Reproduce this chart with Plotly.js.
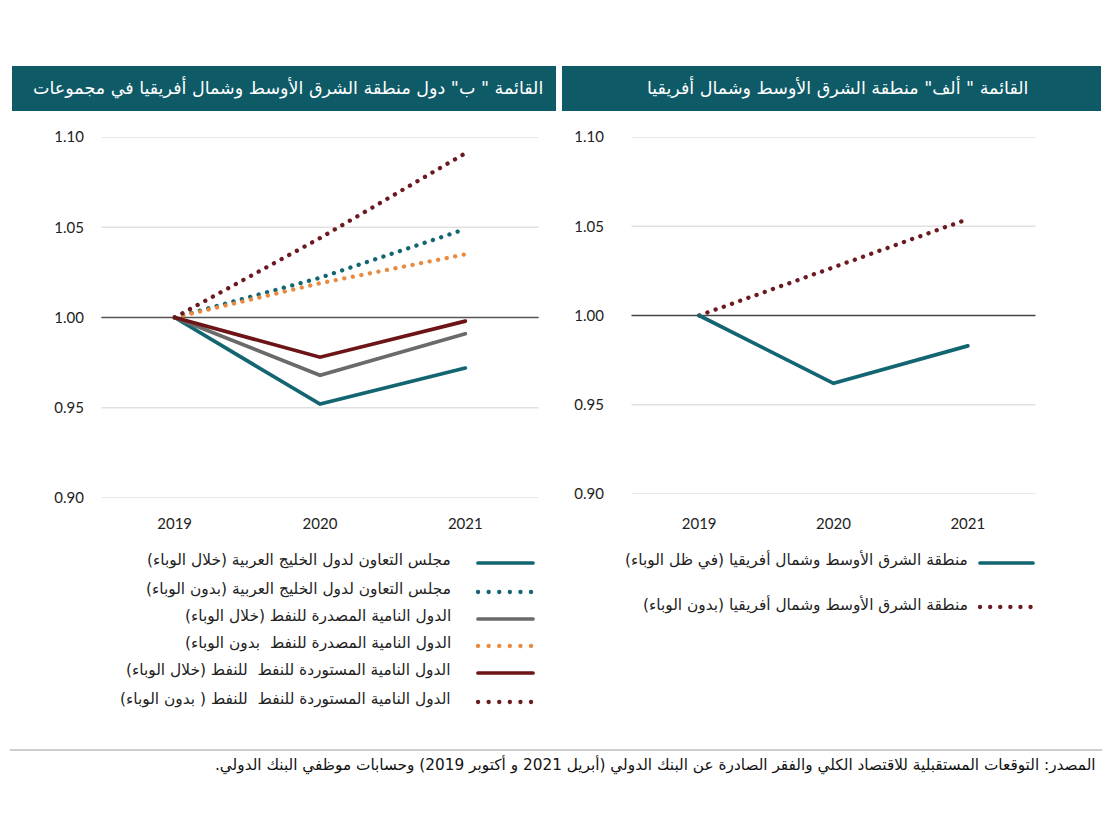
<!DOCTYPE html>
<html>
<head>
<meta charset="utf-8">
<script src="https://cdn.plot.ly/plotly-3.0.1.min.js"></script>
<style>
  html, body { margin: 0; padding: 0; background: #ffffff; }
  #chart { width: 1114px; height: 813px; }
  .js-line, .shapelayer path { stroke-linecap: round; }
</style>
</head>
<body>
<div id="chart"></div>
<script>
// ---------- data ----------
const years = ['2019', '2020', '2021'];

// Panel B (left): MENA country groups
const gccWith       = [1.000, 0.952, 0.972];
const gccWithout    = [1.000, 1.022, 1.049];
const exportWith    = [1.000, 0.968, 0.991];
const exportWithout = [1.000, 1.019, 1.035];
const importWith    = [1.000, 0.978, 0.998];
const importWithout = [1.000, 1.044, 1.091];

// Panel A (right): MENA region
const menaWith    = [1.000, 0.962, 0.983];
const menaWithout = [1.000, 1.027, 1.054];

const yTickVals = [0.90, 0.95, 1.00, 1.05, 1.10];
const yTickText = ['0.90', '0.95', '1.00', '1.05', '1.10'];
const baseline = 1.00;

const leftNames = [
  'مجلس التعاون لدول الخليج العربية (خلال الوباء)',
  'مجلس التعاون لدول الخليج العربية (بدون الوباء)',
  'الدول النامية المصدرة للنفط (خلال الوباء)',
  'الدول النامية المصدرة للنفط  بدون الوباء)',
  'الدول النامية المستوردة للنفط  للنفط (خلال الوباء)',
  'الدول النامية المستوردة للنفط  للنفط ( بدون الوباء)'
];
const rightNames = [
  'منطقة الشرق الأوسط وشمال أفريقيا (في ظل الوباء)',
  'منطقة الشرق الأوسط وشمال أفريقيا (بدون الوباء)'
];
const titleLeft  = 'القائمة " ب" دول منطقة الشرق الأوسط وشمال أفريقيا في مجموعات';
const titleRight = 'القائمة " ألف" منطقة الشرق الأوسط وشمال أفريقيا';
const sourceText = 'المصدر: التوقعات المستقبلية للاقتصاد الكلي والفقر الصادرة عن البنك الدولي (أبريل 2021 و أكتوبر 2019) وحسابات موظفي البنك الدولي.';

// ---------- styles ----------
const W = 1114, H = 813;
const px = v => v / W;
const py = v => 1 - v / H;
const rtl = s => '\u202B' + s + '\u202C';

const TEAL = '#136571', GRAY = '#6a6a6a', RED = '#6d1416', ORANGE = '#e98a3e', DRED = '#6a1a20';
const DOT = '0.1px,8.6px';
const FONT = 'Lato, "Open Sans", sans-serif';
const AFONT = '"DejaVu Sans", "Noto Sans", sans-serif';

const leftSeries = [
  {y: gccWith,       color: TEAL,   dash: 'solid'},
  {y: gccWithout,    color: TEAL,   dash: DOT},
  {y: exportWith,    color: GRAY,   dash: 'solid'},
  {y: exportWithout, color: ORANGE, dash: DOT},
  {y: importWith,    color: RED,    dash: 'solid'},
  {y: importWithout, color: DRED,   dash: DOT}
];
const rightSeries = [
  {y: menaWith,    color: TEAL, dash: 'solid'},
  {y: menaWithout, color: DRED, dash: DOT}
];

const traces = [];
// dotted first, solid on top
[1,3,5,0,2,4].forEach(i => {
  const s = leftSeries[i];
  traces.push({x: years, y: s.y, xaxis: 'x', yaxis: 'y', type: 'scatter', mode: 'lines',
    line: {color: s.color, width: s.dash === 'solid' ? 3.7 : 4.3, dash: s.dash}, name: leftNames[i],
    showlegend: false, hoverinfo: 'skip'});
});
[1,0].forEach(i => {
  const s = rightSeries[i];
  traces.push({x: years, y: s.y, xaxis: 'x2', yaxis: 'y2', type: 'scatter', mode: 'lines',
    line: {color: s.color, width: s.dash === 'solid' ? 3.7 : 4.3, dash: s.dash}, name: rightNames[i],
    showlegend: false, hoverinfo: 'skip'});
});

const xax = (domain, standoff) => ({
  domain: domain, type: 'category', range: [-0.5, 2.5], showgrid: false, zeroline: false,
  showline: false, ticks: '', ticklabelstandoff: standoff,
  tickfont: {family: FONT, size: 15, color: '#222'}, fixedrange: true
});
const yax = (domain, anchor, standoff) => ({
  domain: domain, anchor: anchor, range: [0.90, 1.10], tickvals: yTickVals, ticktext: yTickText,
  showgrid: false, zeroline: false, showline: false,
  ticks: '', ticklabelstandoff: standoff, tickfont: {family: FONT, size: 15, color: '#222'}, fixedrange: true
});

const shapes = [
  // title bars
  {type: 'rect', xref: 'paper', yref: 'paper', x0: px(12), x1: px(556), y0: py(111), y1: py(66),
   fillcolor: '#0e5a67', line: {width: 0}, layer: 'below'},
  {type: 'rect', xref: 'paper', yref: 'paper', x0: px(562), x1: px(1101), y0: py(111), y1: py(66),
   fillcolor: '#0e5a67', line: {width: 0}, layer: 'below'}
];
// gridlines (light) then baseline (dark) in each panel
[['x', 'y', '#555', 1.6], ['x2', 'y2', '#444', 1.3]].forEach(([xa, ya, bc, bw]) => {
  yTickVals.filter(v => v !== baseline).forEach(v => {
    shapes.push({type: 'line', xref: xa + ' domain', yref: ya, x0: 0, x1: 1, y0: v, y1: v,
      line: {color: '#e1e1e1', width: 1.5}, layer: 'below'});
  });
  shapes.push({type: 'line', xref: xa + ' domain', yref: ya, x0: 0, x1: 1, y0: baseline, y1: baseline,
    line: {color: bc, width: bw}, layer: 'below'});
});
// bottom rule
shapes.push({type: 'line', xref: 'paper', yref: 'paper', x0: px(10), x1: px(1102), y0: py(750), y1: py(750),
  line: {color: '#9a9a9a', width: 1}});

const annotations = [
  {xref: 'paper', yref: 'paper', x: px(545), y: py(88), xanchor: 'right', yanchor: 'middle',
   text: rtl(titleLeft), showarrow: false, font: {family: AFONT, size: 17.5, color: '#ffffff'}},
  {xref: 'paper', yref: 'paper', x: px(1030), y: py(88), xanchor: 'right', yanchor: 'middle',
   text: rtl(titleRight), showarrow: false, font: {family: AFONT, size: 17.5, color: '#ffffff'}},
  {xref: 'paper', yref: 'paper', x: px(1098), y: py(765), xanchor: 'right', yanchor: 'middle',
   text: rtl(sourceText), showarrow: false, font: {family: AFONT, size: 15.3, color: '#111'}}
];

// legend, left panel
const leftRows = [563, 592, 619, 646, 673, 702];
leftSeries.forEach((s, i) => {
  annotations.push({xref: 'paper', yref: 'paper', x: px(453), y: py(leftRows[i] - 3), xanchor: 'right', yanchor: 'middle',
    text: rtl(leftNames[i]), showarrow: false, font: {family: AFONT, size: 15.4, color: '#222'}});
  shapes.push({type: 'line', xref: 'paper', yref: 'paper', x0: px(478), x1: px(533), y0: py(leftRows[i]), y1: py(leftRows[i]),
    line: {color: s.color, width: s.dash === 'solid' ? 3.7 : 4.3, dash: s.dash === 'solid' ? 'solid' : '0.1px,10.5px'}});
});
// legend, right panel
const rightRows = [563, 607];
rightSeries.forEach((s, i) => {
  annotations.push({xref: 'paper', yref: 'paper', x: px(970), y: py(rightRows[i] - 3), xanchor: 'right', yanchor: 'middle',
    text: rtl(rightNames[i]), showarrow: false, font: {family: AFONT, size: 15.4, color: '#222'}});
  shapes.push({type: 'line', xref: 'paper', yref: 'paper', x0: px(980), x1: px(1033), y0: py(rightRows[i]), y1: py(rightRows[i]),
    line: {color: s.color, width: s.dash === 'solid' ? 3.7 : 4.3, dash: s.dash === 'solid' ? 'solid' : '0.1px,10px'}});
});

const layout = {
  width: W, height: H, margin: {l: 0, r: 0, t: 0, b: 0},
  paper_bgcolor: '#ffffff', plot_bgcolor: '#ffffff', showlegend: false,
  xaxis: Object.assign(xax([px(102), px(538)], 15), {anchor: 'y'}),
  yaxis: yax([py(498), py(137)], 'x', 17),
  xaxis2: Object.assign(xax([px(632), px(1035)], 19), {anchor: 'y2'}),
  yaxis2: yax([py(494), py(137)], 'x2', 27),
  shapes: shapes,
  annotations: annotations
};

Plotly.newPlot('chart', traces, layout, {displayModeBar: false, staticPlot: true});
</script>
</body>
</html>
